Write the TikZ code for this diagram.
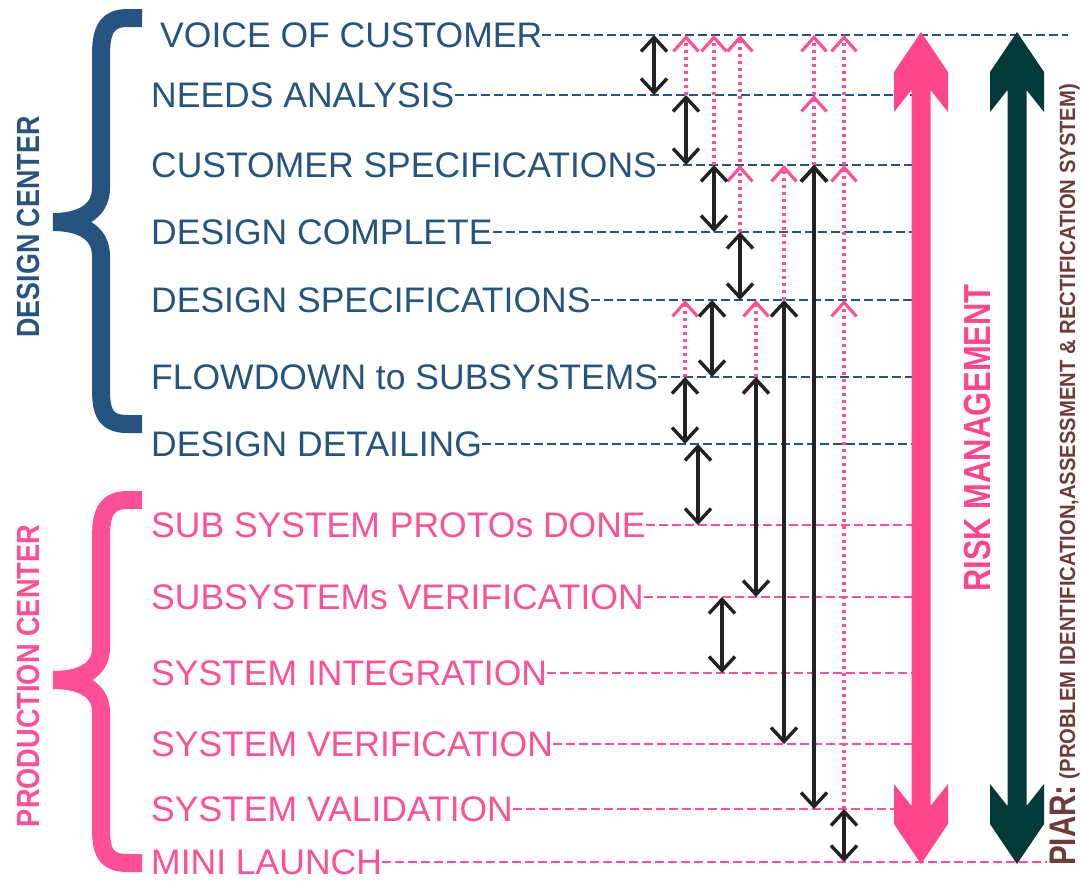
\documentclass[tikz,border=0pt]{standalone}
\usepackage{fontspec}
\setmainfont{Liberation Sans}
\usepackage{graphicx}
\usetikzlibrary{arrows.meta,calc}

\definecolor{dcblue}{RGB}{38,84,128}
\definecolor{pcpink}{RGB}{255,79,150}
\definecolor{riskpink}{RGB}{255,70,140}
\definecolor{piardark}{RGB}{2,58,58}
\definecolor{piarbrown}{RGB}{112,58,58}
\definecolor{ink}{RGB}{34,34,34}

% #1 colour, #2 centre x, #3 top tip, #4 bottom tip
\newcommand{\twoheadbar}[4]{%
  \fill[#1] (#2,#3) -- ++(27,40) -- ++(0,40) -- ++(-17.5,-22) -- (#2+9.5,#4-58)
    -- ++(17.5,-22) -- ++(0,40) -- (#2,#4) -- ++(-27,-40) -- ++(0,-40)
    -- ++(17.5,22) -- (#2-9.5,#3+58) -- ++(-17.5,22) -- ++(0,-40) -- cycle;}

\begin{document}
\begin{tikzpicture}[x=1pt,y=-1pt,
    lbl/.style={anchor=west,inner sep=0pt,text height=25pt,text depth=0pt,
      font=\fontsize{35.5}{40}\selectfont},
    grp/.style={rotate=90,inner sep=0pt,font=\fontsize{32}{36}\selectfont\bfseries},
    dashln/.style={line width=2.8pt,dash pattern=on 9pt off 4pt},
    fb/.style={draw=pcpink,line width=3.2pt,dash pattern=on 3pt off 4pt,
      -{Straight Barb[length=14pt,width=25pt]}},
    dbl/.style={draw=ink,line width=3.4pt,
      {Straight Barb[length=14pt,width=26pt]}-{Straight Barb[length=14pt,width=26pt]}},
    brace/.style={line width=18pt}]
  \useasboundingbox (0,0) rectangle (1081,881);

  % design center stages
  \node[lbl,text=dcblue] (voc) at (160,35) {VOICE OF CUSTOMER};
  \node[lbl,text=dcblue] (na) at (151,95) {NEEDS ANALYSIS};
  \node[lbl,text=dcblue] (cs) at (151,165) {CUSTOMER SPECIFICATIONS};
  \node[lbl,text=dcblue] (dc) at (151,232) {DESIGN COMPLETE};
  \node[lbl,text=dcblue] (ds) at (151,300) {DESIGN SPECIFICATIONS};
  \node[lbl,text=dcblue] (fd) at (151,377) {FLOWDOWN to SUBSYSTEMS};
  \node[lbl,text=dcblue] (dd) at (151,444) {DESIGN DETAILING};
  % production center stages
  \node[lbl,text=pcpink] (spd) at (151,525) {SUB SYSTEM PROTOs DONE};
  \node[lbl,text=pcpink] (ssv) at (151,597) {SUBSYSTEMs VERIFICATION};
  \node[lbl,text=pcpink] (si) at (151,673) {SYSTEM INTEGRATION};
  \node[lbl,text=pcpink] (sv) at (151,744) {SYSTEM VERIFICATION};
  \node[lbl,text=pcpink] (sval) at (151,809) {SYSTEM VALIDATION};
  \node[lbl,text=pcpink] (ml) at (151,862) {MINI LAUNCH};

  \draw[dashln,dcblue] (voc.east) -- (1068,0 |- voc);
  \draw[dashln,dcblue] (na.east) -- (921,0 |- na);
  \draw[dashln,dcblue] (cs.east) -- (921,0 |- cs);
  \draw[dashln,dcblue] (dc.east) -- (921,0 |- dc);
  \draw[dashln,dcblue] (ds.east) -- (921,0 |- ds);
  \draw[dashln,dcblue] (fd.east) -- (921,0 |- fd);
  \draw[dashln,dcblue] (dd.east) -- (921,0 |- dd);
  \draw[dashln,pcpink] (spd.east) -- (921,0 |- spd);
  \draw[dashln,pcpink] (ssv.east) -- (921,0 |- ssv);
  \draw[dashln,pcpink] (si.east) -- (921,0 |- si);
  \draw[dashln,pcpink] (sv.east) -- (921,0 |- sv);
  \draw[dashln,pcpink] (sval.east) -- (921,0 |- sval);
  \draw[dashln,pcpink] (ml.east) -- (1047,0 |- ml);

  % feedback
  \path[fb]
    (686,0 |- na) edge (686,0 |- voc)
    (714,0 |- cs) edge (714,0 |- voc)
    (740,0 |- dc) edge (740,0 |- voc)
    (740,0 |- dc) edge (740,0 |- cs)
    (784,0 |- ds) edge (784,0 |- cs)
    (814,0 |- cs) edge (814,0 |- voc)
    (814,0 |- cs) edge (814,0 |- na)
    (844,0 |- sval) edge (844,0 |- voc)
    (844,0 |- sval) edge (844,0 |- cs)
    (844,0 |- sval) edge (844,0 |- ds)
    (685,0 |- fd) edge (685,0 |- ds)
    (756,0 |- fd) edge (756,0 |- ds);

  \path[dbl]
    (654,0 |- voc) edge (654,0 |- na)
    (686,0 |- na) edge (686,0 |- cs)
    (714,0 |- cs) edge (714,0 |- dc)
    (740,0 |- dc) edge (740,0 |- ds)
    (712,0 |- ds) edge (712,0 |- fd)
    (685,0 |- fd) edge (685,0 |- dd)
    (698,0 |- dd) edge (698,0 |- spd)
    (722,0 |- ssv) edge (722,0 |- si)
    (844,0 |- sval) edge (844,0 |- ml)
    (756,0 |- fd) edge (756,0 |- ssv)
    (784,0 |- ds) edge (784,0 |- sv)
    (814,0 |- cs) edge (814,0 |- sval);

  % braces
  \draw[brace,dcblue] (142,18) -- (128,18) .. controls (108,18) and (101,28) .. (101,55)
    -- (101,188) .. controls (101,212) and (80,222) .. (53,222)
    (53,222) .. controls (80,222) and (101,232) .. (101,256)
    -- (101,390) .. controls (101,416) and (108,424) .. (128,424) -- (142,424);
  \draw[brace,pcpink] (142,500) -- (128,500) .. controls (108,500) and (101,510) .. (101,537)
    -- (101,648) .. controls (101,671) and (80,680) .. (53,680)
    (53,680) .. controls (80,680) and (101,689) .. (101,712)
    -- (101,829) .. controls (101,855) and (108,863) .. (128,863) -- (142,863);
  \node[grp,text=dcblue] (dcgroup) at (28,227) {\scalebox{0.84}[1]{DESIGN CENTER}};
  \node[grp,text=pcpink] (pcgroup) at (28,676) {\scalebox{0.85}[1]{PRODUCTION CENTER}};

  % risk management and PIAR
  \twoheadbar{riskpink}{921}{32}{864}
  \twoheadbar{piardark}{1017}{32}{864}
  \node[rotate=90,inner sep=0pt,text=riskpink,font=\fontsize{37.7}{40}\selectfont\bfseries]
    (risk) at (978,438) {\scalebox{0.82}[1]{RISK MANAGEMENT}};
  \node[rotate=90,anchor=base west,inner sep=0pt,text=piarbrown,font=\bfseries]
    (piar) at (1075,866) {\fontsize{37}{40}\selectfont\scalebox{0.8}[1]{PIAR:}\hspace{6pt}%
    \fontsize{22}{24}\selectfont\scalebox{0.92}[1]{(PROBLEM IDENTIFICATION,ASSESSMENT \& RECTIFICATION SYSTEM)}};
\end{tikzpicture}
\end{document}
